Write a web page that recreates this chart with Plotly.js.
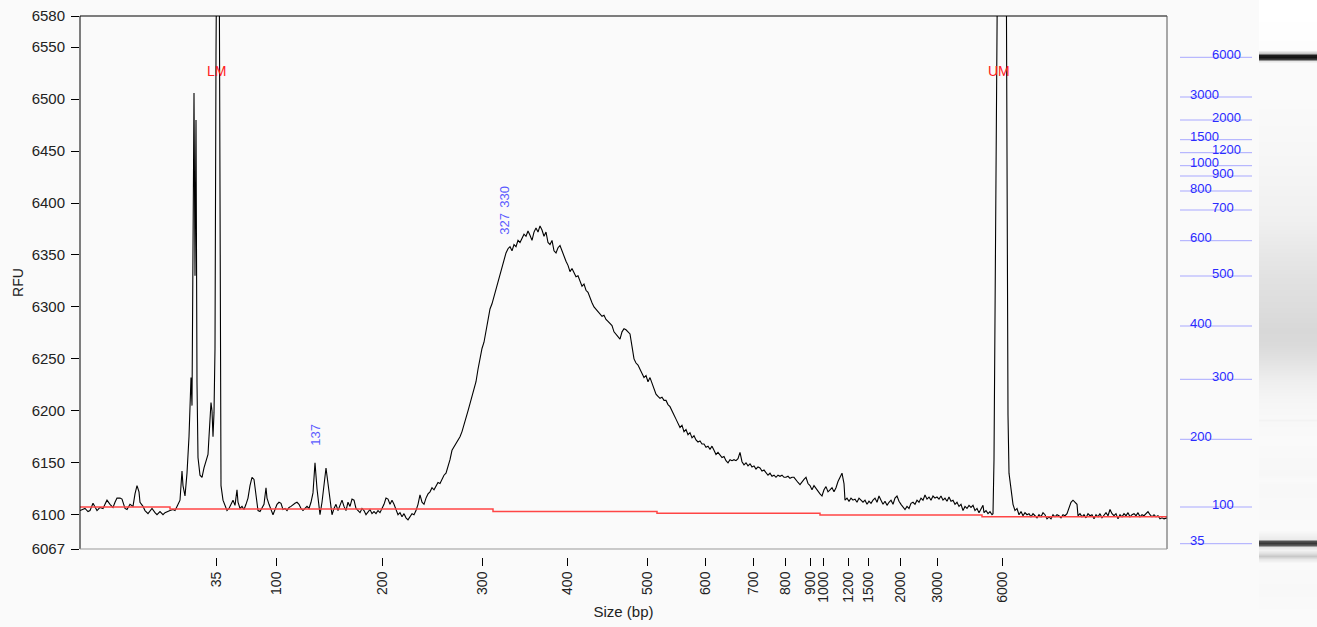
<!DOCTYPE html>
<html><head><meta charset="utf-8">
<script src="https://cdn.plot.ly/plotly-3.0.1.min.js"></script>
<style>html,body{margin:0;padding:0;background:#fafafa;}#chart{width:1317px;height:627px;}</style>
</head><body><div id="chart"></div>
<script>
// Electropherogram signal: [scan position, RFU]
const signal = [
[0,6104],[2,6105],[5,6106],[8,6103],[10,6104],[13,6111],[15,6108],[17,6104],[20,6107],[23,6106],
[25,6110],[27,6114],[30,6110],[33,6107],[35,6112],[37,6116],[40,6116],[42,6115],[45,6106],[47,6105],
[50,6110],[53,6108],[55,6120],[57,6128],[59,6122],[60,6112],[63,6108],[65,6104],[68,6101],[70,6104],
[72,6106],[75,6102],[77,6100],[80,6103],[83,6100],[85,6102],[87,6103],[90,6104],[93,6105],[95,6104],
[97,6108],[100,6114],[102,6142],[103,6128],[105,6118],[107,6140],[109,6175],[110,6203],[111,6232],[112,6205],
[113,6425],[114,6506],[115,6330],[116,6480],[117,6227],[118,6155],[120,6138],[122,6136],[124,6145],[126,6153],
[128,6158],[129,6175],[130,6190],[131,6208],[132,6200],[133,6175],[134,6198],[135,6260],[136,6542],[137,6700],
[139,6700],[140,6261],[141,6128],[143,6114],[145,6108],[147,6104],[149,6106],[151,6110],[153,6114],[155,6109],
[157,6124],[158,6112],[160,6106],[162,6108],[164,6105],[166,6110],[168,6116],[170,6128],[172,6136],[174,6134],
[176,6118],[178,6104],[180,6103],[182,6106],[184,6110],[186,6126],[187,6116],[189,6110],[191,6104],[193,6100],
[195,6105],[197,6110],[199,6112],[201,6111],[203,6105],[205,6106],[207,6104],[209,6107],[211,6108],[213,6110],
[215,6111],[217,6112],[219,6110],[221,6106],[223,6104],[225,6106],[227,6108],[229,6106],[231,6112],[233,6121],
[235,6150],[237,6125],[239,6108],[240,6100],[242,6112],[244,6130],[246,6145],[248,6130],[250,6112],[252,6100],
[254,6106],[256,6110],[258,6104],[260,6109],[262,6114],[264,6108],[266,6104],[268,6112],[270,6108],[272,6115],
[274,6114],[276,6106],[278,6104],[280,6102],[282,6106],[284,6104],[286,6100],[288,6103],[290,6105],[292,6101],
[294,6103],[296,6101],[298,6104],[300,6102],[302,6106],[304,6110],[306,6116],[308,6115],[310,6110],[312,6114],
[314,6110],[316,6104],[318,6100],[320,6102],[322,6098],[324,6101],[326,6097],[328,6095],[330,6098],[332,6101],
[334,6100],[336,6104],[338,6110],[340,6119],[342,6112],[344,6110],[346,6116],[348,6120],[350,6122],[352,6126],
[354,6124],[356,6128],[358,6131],[360,6130],[362,6134],[364,6138],[366,6140],[368,6146],[370,6153],[372,6162],
[374,6165],[376,6168],[378,6172],[380,6175],[382,6180],[384,6186],[386,6194],[388,6200],[390,6207],[392,6214],
[394,6220],[396,6228],[398,6240],[400,6252],[402,6260],[404,6266],[406,6276],[408,6285],[410,6298],[412,6303],
[414,6310],[416,6316],[418,6322],[420,6330],[422,6338],[424,6345],[426,6352],[428,6356],[430,6358],[432,6354],
[434,6360],[436,6358],[438,6364],[440,6362],[442,6366],[444,6370],[446,6368],[448,6373],[450,6369],[452,6364],
[454,6372],[456,6376],[458,6372],[460,6378],[462,6374],[464,6368],[466,6372],[468,6362],[470,6360],[472,6364],
[474,6354],[476,6352],[478,6357],[480,6359],[482,6354],[484,6348],[486,6344],[488,6340],[490,6334],[492,6337],
[494,6333],[496,6329],[498,6330],[500,6324],[502,6320],[504,6322],[506,6316],[508,6314],[510,6308],[512,6304],
[514,6300],[516,6298],[518,6296],[520,6294],[522,6291],[524,6292],[526,6288],[528,6286],[530,6284],[532,6282],
[534,6276],[536,6274],[538,6272],[540,6269],[542,6276],[544,6279],[546,6278],[548,6276],[550,6274],[552,6262],
[554,6250],[556,6246],[558,6244],[560,6240],[562,6236],[564,6232],[566,6234],[568,6228],[570,6232],[572,6226],
[574,6220],[576,6216],[578,6214],[580,6212],[582,6213],[584,6210],[586,6210],[588,6206],[590,6204],[592,6199],
[594,6196],[596,6192],[598,6188],[600,6184],[602,6186],[604,6180],[606,6182],[608,6177],[610,6179],[612,6174],
[614,6176],[616,6172],[618,6170],[620,6171],[622,6168],[624,6168],[626,6165],[628,6166],[630,6163],[632,6166],
[634,6162],[636,6158],[638,6160],[640,6158],[642,6155],[644,6156],[646,6152],[648,6150],[650,6153],[652,6152],
[654,6153],[656,6152],[658,6154],[660,6160],[662,6151],[664,6148],[666,6150],[668,6147],[670,6149],[672,6146],
[674,6147],[676,6144],[678,6146],[680,6145],[682,6142],[684,6143],[686,6141],[688,6138],[690,6140],[692,6137],
[694,6138],[696,6136],[698,6138],[700,6137],[702,6138],[704,6136],[706,6136],[708,6137],[710,6135],[712,6136],
[714,6136],[716,6133],[718,6131],[720,6129],[722,6132],[724,6134],[726,6136],[728,6130],[730,6128],[732,6124],
[734,6128],[736,6125],[738,6122],[740,6120],[742,6118],[744,6124],[746,6127],[748,6122],[750,6124],[752,6126],
[754,6122],[756,6126],[758,6132],[760,6136],[762,6140],[764,6130],[765,6114],[767,6116],[769,6113],[771,6116],
[773,6114],[775,6115],[777,6112],[779,6116],[781,6114],[783,6112],[785,6114],[787,6110],[789,6113],[791,6111],
[793,6114],[795,6116],[797,6112],[799,6118],[801,6114],[803,6110],[805,6113],[807,6109],[809,6112],[811,6114],
[813,6110],[815,6116],[817,6118],[819,6113],[821,6110],[823,6107],[825,6105],[827,6108],[829,6106],[831,6111],
[833,6112],[835,6110],[837,6114],[839,6112],[841,6116],[843,6114],[845,6119],[847,6115],[849,6117],[851,6114],
[853,6118],[855,6116],[857,6117],[859,6115],[861,6118],[863,6114],[865,6116],[867,6113],[869,6117],[871,6113],
[873,6114],[875,6110],[877,6112],[879,6108],[881,6110],[883,6104],[885,6108],[887,6106],[889,6109],[891,6107],
[893,6109],[895,6104],[897,6106],[899,6102],[901,6106],[903,6109],[904,6102],[906,6104],[908,6101],[910,6103],
[912,6100],[913,6101],[914,6153],[916,6439],[918,6700],[926,6700],[927,6304],[928,6196],[929,6140],[931,6122],
[933,6110],[935,6104],[937,6106],[939,6100],[941,6103],[943,6099],[945,6102],[947,6100],[949,6101],[951,6098],
[953,6101],[955,6099],[957,6097],[959,6100],[961,6098],[963,6102],[965,6100],[967,6096],[969,6098],[971,6096],
[973,6100],[975,6098],[977,6100],[979,6099],[981,6097],[983,6100],[985,6099],[987,6101],[989,6106],[991,6112],
[993,6114],[995,6112],[997,6110],[998,6099],[1000,6101],[1002,6098],[1004,6100],[1006,6097],[1008,6101],[1010,6099],
[1012,6100],[1014,6096],[1016,6100],[1018,6098],[1020,6101],[1022,6097],[1024,6100],[1026,6102],[1028,6099],[1030,6105],
[1032,6101],[1034,6099],[1036,6101],[1038,6096],[1040,6100],[1042,6098],[1044,6101],[1046,6099],[1048,6102],[1050,6098],
[1052,6100],[1054,6101],[1056,6099],[1058,6102],[1060,6098],[1062,6100],[1064,6099],[1066,6101],[1068,6103],[1070,6100],
[1072,6098],[1074,6100],[1076,6098],[1078,6099],[1080,6096],[1082,6097],[1084,6096],[1087,6097]
];

// Baseline (stepped)
const baselineScan = [0, 90, 413, 577, 740, 902, 1087];
const baselineRFU  = [6107.4, 6105.5, 6103, 6101.4, 6099.7, 6098.1, 6098.1];

// Size axis ticks
const sizeTickLabels = ['35','100','200','300','400','500','600','700','800','900','1000','1200','1500','2000','3000','6000'];
const sizeTickScan   = [136, 196, 302, 402, 487, 567, 625, 673, 705, 730, 743, 768, 788, 820, 857, 922];

// RFU axis ticks
const rfuTicks = [6067, 6100, 6150, 6200, 6250, 6300, 6350, 6400, 6450, 6500, 6550, 6580];

// Marker labels
const markerLabels = ['LM', 'UM'];
const markerScan   = [136, 919];
const markerRFU    = [6527, 6527];

// Peak size labels
const peakLabels = ['137', '327', '330'];
const peakScan   = [236, 425, 425];
const peakRFU    = [6177, 6380, 6406];

// Ladder (gel migration position of each size)
const ladderSizes = [35, 100, 200, 300, 400, 500, 600, 700, 800, 900, 1000, 1200, 1500, 2000, 3000, 6000];
const ladderPos   = [543.7, 507, 439.3, 379.3, 326, 276, 240.7, 210, 191, 176, 165.7, 152.7, 139.7, 120, 97, 57.3];

// Gel lane intensity (gray level) along migration position
const gelPos  = [12, 50, 53, 55, 57, 59, 61, 63, 100, 150, 180, 220, 250, 280, 310, 330, 345, 360, 380, 400, 418, 420, 422, 440, 475, 480, 485, 510, 530, 539, 541, 543, 545, 547, 550, 553, 556, 559, 563, 590, 615];
const gelGray = [255, 253, 200, 30, 20, 60, 230, 250, 250, 247, 244, 240, 232, 225, 220, 216, 218, 226, 238, 245, 248, 243, 248, 250, 247, 250, 248, 249, 250, 235, 80, 55, 90, 230, 242, 225, 200, 232, 250, 248, 250];

// ---------- build ----------
const W = 1317, H = 627;
const px = v => v / W;
const py = v => 1 - v / H;

const ladderX = [], ladderY = [];
ladderPos.forEach(p => { ladderX.push(0, 1, null); ladderY.push(p, p, null); });

const traces = [
  { x: signal.map(d => d[0]), y: signal.map(d => d[1]), type: 'scatter', mode: 'lines',
    line: { color: '#000000', width: 1.1 }, xaxis: 'x', yaxis: 'y' },
  { x: baselineScan, y: baselineRFU, type: 'scatter', mode: 'lines',
    line: { color: '#ff4545', width: 1.5, shape: 'hv' }, xaxis: 'x', yaxis: 'y', hoverinfo: 'skip' },
  { x: ladderX, y: ladderY, type: 'scatter', mode: 'lines',
    line: { color: '#a8a8ff', width: 1 }, xaxis: 'x2', yaxis: 'y2', hoverinfo: 'skip' },
  { type: 'heatmap', x: [0, 1], y: gelPos, z: gelGray.map(v => [v, v]),
    colorscale: [[0, '#000000'], [1, '#ffffff']], zmin: 0, zmax: 255, showscale: false,
    zsmooth: 'best', xaxis: 'x3', yaxis: 'y2', hoverinfo: 'skip' }
];

const annotations = [];
markerLabels.forEach((t, i) => annotations.push({
  x: markerScan[i], y: markerRFU[i], xref: 'x', yref: 'y', text: t, showarrow: false,
  font: { color: '#ff2020', size: 14 }
}));
peakLabels.forEach((t, i) => annotations.push({
  x: peakScan[i], y: peakRFU[i], xref: 'x', yref: 'y', text: t, showarrow: false, textangle: -90,
  font: { color: '#5a5aff', size: 13 }
}));
ladderSizes.forEach((s, i) => annotations.push({
  x: i % 2 === 0 ? 0.11 : 0.417, y: ladderPos[i], xref: 'x2', yref: 'y2', text: String(s),
  showarrow: false, xanchor: 'left', yanchor: 'middle', yshift: 3,
  font: { color: '#2a2aff', size: 13 }
}));

const L = 80, R = 1167, T = 16, B = 549;
const shapes = [
  { type: 'line', xref: 'paper', yref: 'paper', x0: px(L), x1: px(L), y0: py(T), y1: py(B), line: { color: '#000', width: 1 } },
  { type: 'line', xref: 'paper', yref: 'paper', x0: px(L), x1: px(R), y0: py(T), y1: py(T), line: { color: '#000', width: 1 } },
  { type: 'line', xref: 'paper', yref: 'paper', x0: px(R), x1: px(R), y0: py(T), y1: py(B), line: { color: '#555', width: 1 } },
  { type: 'line', xref: 'paper', yref: 'paper', x0: px(L), x1: px(R), y0: py(B), y1: py(B), line: { color: '#999', width: 1 } }
];

const layout = {
  width: W, height: H,
  margin: { l: 0, r: 0, t: 0, b: 0 },
  paper_bgcolor: '#fafafa', plot_bgcolor: '#fafafa',
  font: { family: 'Liberation Sans, Arial, sans-serif', color: '#222', size: 14 },
  showlegend: false,
  xaxis: {
    domain: [px(L), px(R)], range: [0, 1087], anchor: 'free', position: py(557),
    tickmode: 'array', tickvals: sizeTickScan, ticktext: sizeTickLabels, tickangle: -90,
    ticks: 'outside', ticklen: 8, tickcolor: '#000', tickwidth: 1,
    showgrid: false, zeroline: false, showline: false,
    tickfont: { size: 14, color: '#222' },
    title: { text: 'Size (bp)', font: { size: 15, color: '#222' }, standoff: 4 }
  },
  yaxis: {
    domain: [py(B), py(T)], range: [6067, 6580], anchor: 'x',
    tickmode: 'array', tickvals: rfuTicks, ticks: 'outside', ticklen: 8, tickcolor: '#000',
    ticklabelstandoff: 3,
    showgrid: false, zeroline: false, showline: false,
    tickfont: { size: 15, color: '#222' },
    title: { text: 'RFU', font: { size: 14, color: '#222' }, standoff: 4 }
  },
  xaxis2: { domain: [px(1180), px(1252)], range: [0, 1], visible: false, anchor: 'y2' },
  yaxis2: { domain: [0, 1], range: [H, 0], visible: false, anchor: 'x2' },
  xaxis3: { domain: [px(1259), 1], range: [0, 1], visible: false, anchor: 'y2' },
  annotations: annotations,
  shapes: shapes
};

Plotly.newPlot('chart', traces, layout, { displayModeBar: false, staticPlot: true });
</script></body></html>
